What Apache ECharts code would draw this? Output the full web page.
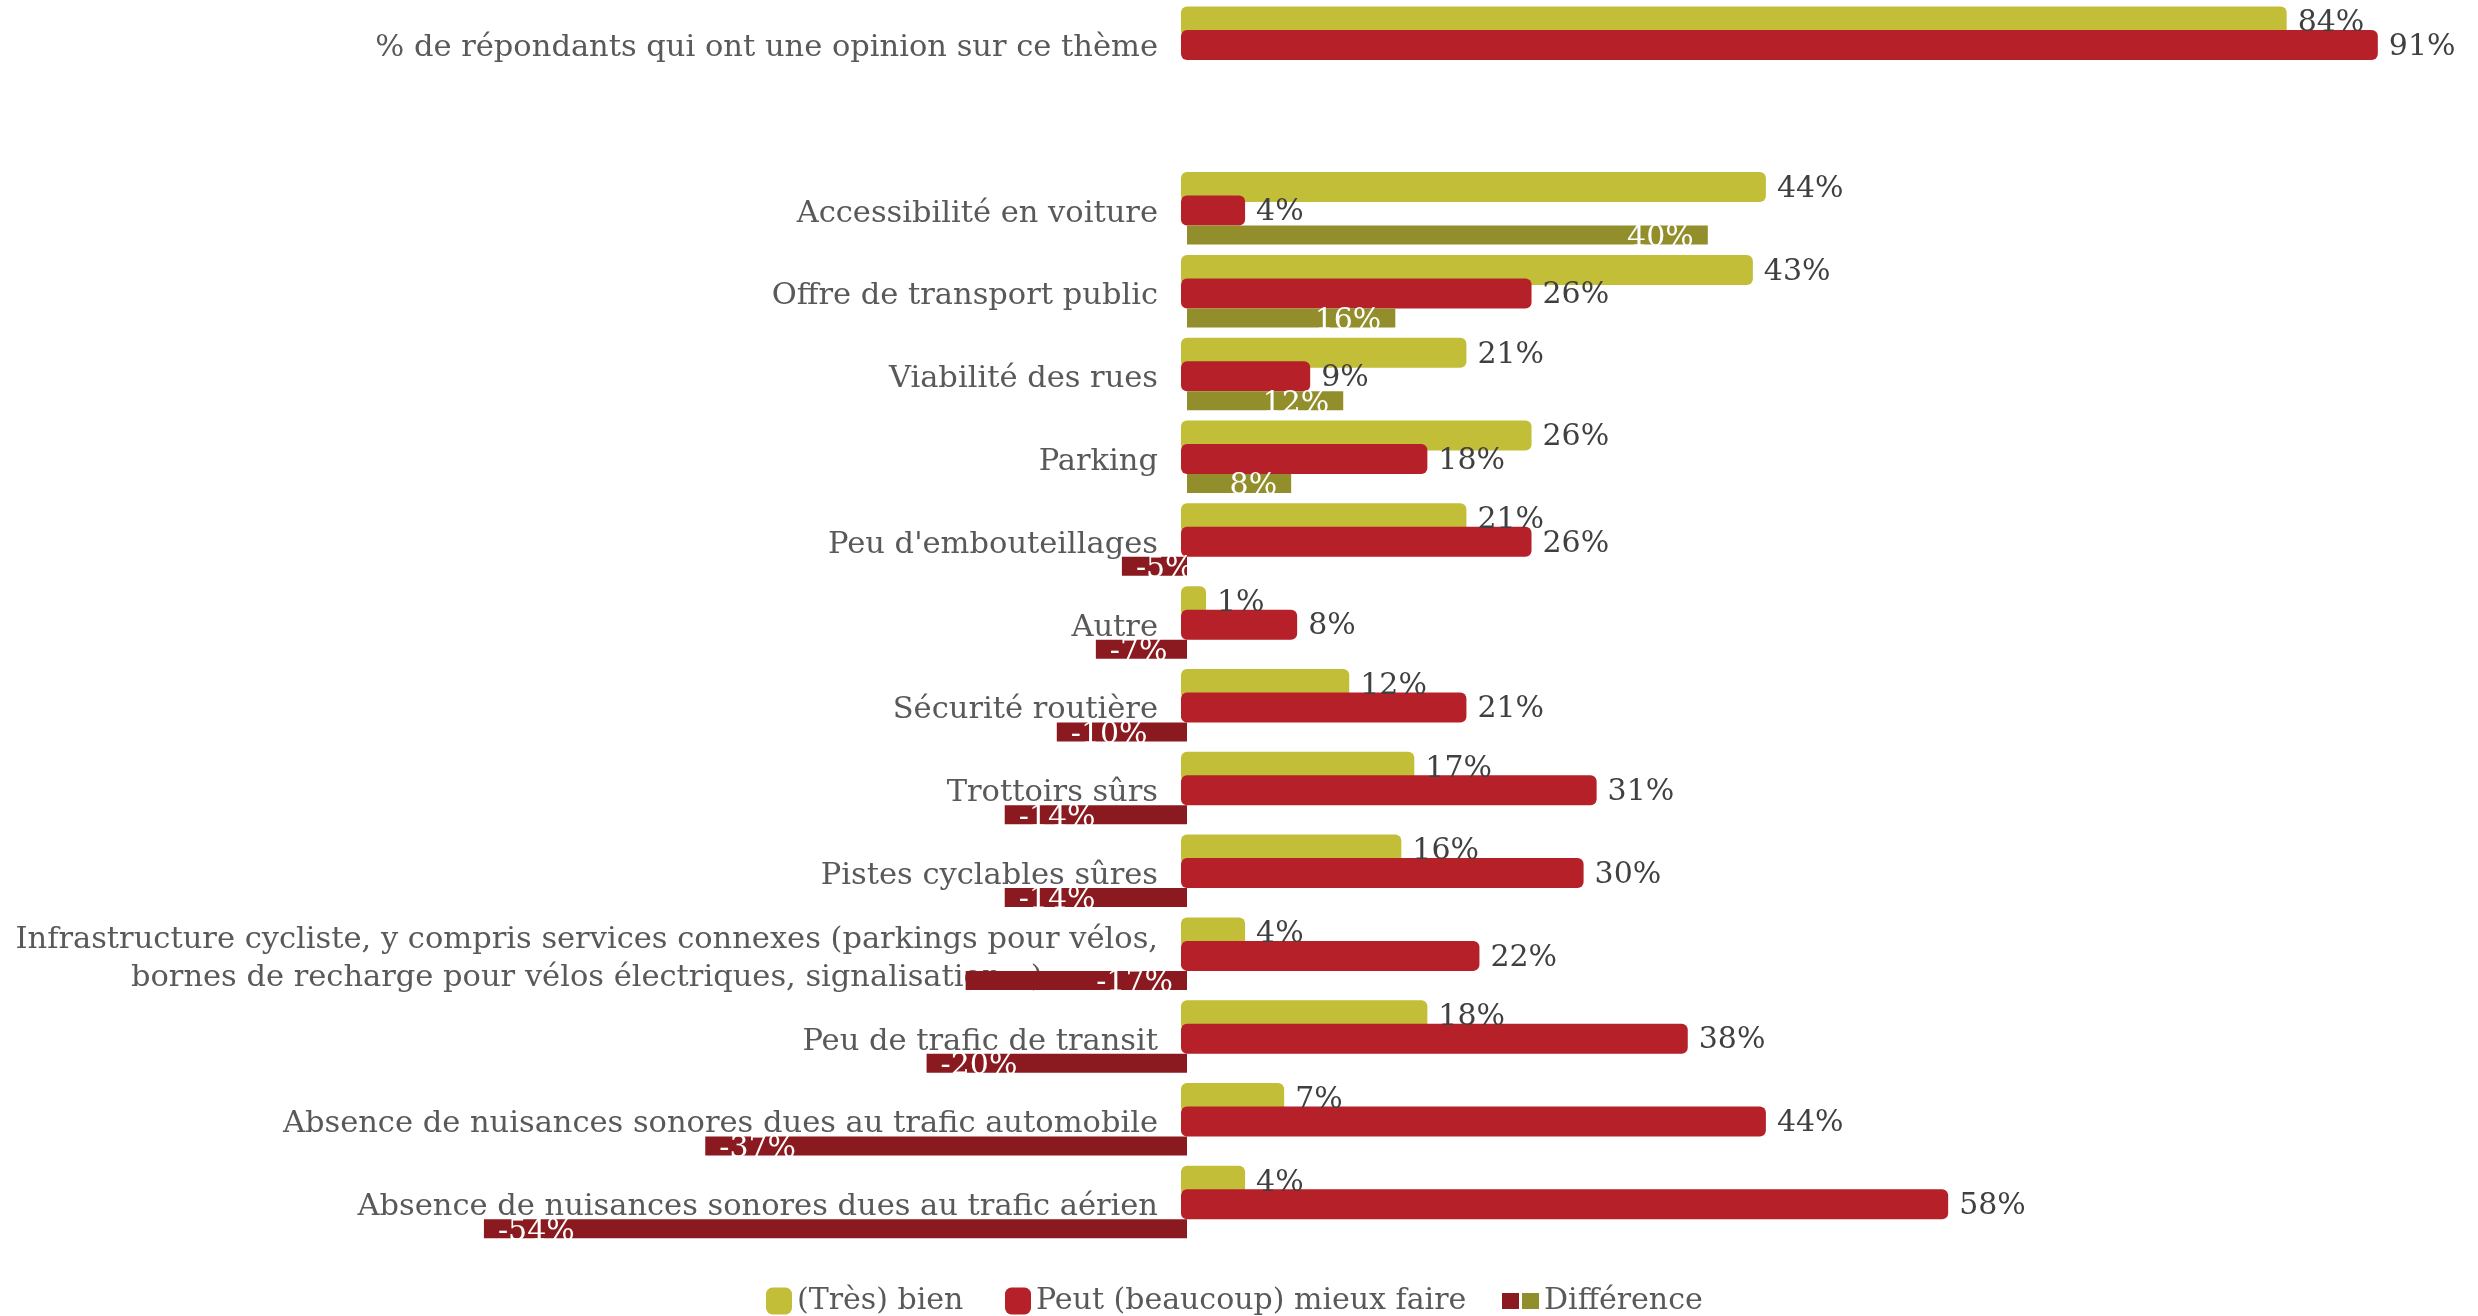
<!DOCTYPE html>
<html>
<head>
<meta charset="utf-8">
<script src="https://cdn.jsdelivr.net/npm/echarts@6/dist/echarts.min.js"></script>
<style>
  html, body { margin: 0; padding: 0; background: #fff; }
  #chart { width: 2478px; height: 1316px; }
</style>
</head>
<body>
<div id="chart"></div>
<script>
const categories = [
    '% de répondants qui ont une opinion sur ce thème',
    '',
    'Accessibilité en voiture',
    'Offre de transport public',
    'Viabilité des rues',
    'Parking',
    "Peu d'embouteillages",
    'Autre',
    'Sécurité routière',
    'Trottoirs sûrs',
    'Pistes cyclables sûres',
    'Infrastructure cycliste, y compris services connexes (parkings pour vélos,\nbornes de recharge pour vélos électriques, signalisation...)',
    'Peu de trafic de transit',
    'Absence de nuisances sonores dues au trafic automobile',
    'Absence de nuisances sonores dues au trafic aérien'
];
const tresBien = [84, null, 44, 43, 21, 26, 21, 1, 12, 17, 16, 4, 18, 7, 4];
const mieuxFaire = [91, null, 4, 26, 9, 18, 26, 8, 21, 31, 30, 22, 38, 44, 58];
const difference = [null, null, 40, 16, 12, 8, -5, -7, -10, -14, -14, -17, -20, -37, -54];
// rows where the difference label sits next to the axis instead of the bar end
const diffLabelNearAxis = [11];

const FONT = '"DejaVu Serif", serif';
const YELLOW = '#C2BE38';
const RED = '#B52029';
const DIFF_POS = '#938E2C';
const DIFF_NEG = '#8A1A1F';

const X_MIN = -80, X_MAX = 95;
const GRID_LEFT = 145.4, GRID_RIGHT = 54.1;
// where value 0 falls, so the category labels can sit on it
const zeroX = GRID_LEFT + (0 - X_MIN) / (X_MAX - X_MIN) * (2478 - GRID_LEFT - GRID_RIGHT);

const toData = arr => arr.map((v, i) => [v, i]).filter(d => d[0] !== null);

// width of the first line of the long label, so both lines can be centred
const ctx = document.createElement('canvas').getContext('2d');
ctx.font = '30.5px ' + FONT;

function roundBar(offset, color) {
    return function (params, api) {
        const v = api.value(0);
        const cy = api.coord([0, api.value(1)])[1] + offset;
        const x0 = api.coord([0, 0])[0] - 6;
        const x1 = api.coord([v, 0])[0] + 6;
        return {
            type: 'rect',
            shape: { x: x0, y: cy - 15, width: x1 - x0, height: 30, r: 6 },
            style: { fill: color },
            textContent: { style: { text: v + '%', fill: '#404040', font: '30px ' + FONT } },
            textConfig: { position: 'right', distance: 11, offset: [0, 2] }
        };
    };
}

function diffBar(params, api) {
    const v = api.value(0);
    const idx = api.value(1);
    const cy = api.coord([0, idx])[1] + 24.5;
    const x0 = api.coord([0, 0])[0];
    const x1 = api.coord([v, 0])[0];
    let pos = v < 0 ? 'insideLeft' : 'insideRight';
    if (diffLabelNearAxis.indexOf(idx) >= 0) pos = v < 0 ? 'insideRight' : 'insideLeft';
    return {
        type: 'rect',
        shape: { x: Math.min(x0, x1), y: cy - 9.5, width: Math.abs(x1 - x0), height: 19 },
        style: { fill: v < 0 ? DIFF_NEG : DIFF_POS },
        textContent: { style: { text: v + '%', fill: '#ffffff', font: '30px ' + FONT } },
        textConfig: { position: pos, distance: 14, offset: [0, 3] }
    };
}

const diffIcon = 'image://data:image/svg+xml;charset=utf-8,' + encodeURIComponent(
    '<svg xmlns="http://www.w3.org/2000/svg" width="37" height="16">' +
    '<rect x="0" y="0" width="17" height="16" fill="' + DIFF_NEG + '"/>' +
    '<rect x="20" y="0" width="17" height="16" fill="' + DIFF_POS + '"/></svg>');

const legendText = { fontFamily: FONT, fontSize: 30, color: '#595959' };

const chart = echarts.init(document.getElementById('chart'));
chart.setOption({
    backgroundColor: '#ffffff',
    animation: false,
    grid: { left: GRID_LEFT, right: GRID_RIGHT, top: 3.6, height: 1242.1, outerBoundsMode: 'none' },
    xAxis: {
        type: 'value',
        min: X_MIN,
        max: X_MAX,
        show: false
    },
    yAxis: {
        type: 'category',
        data: categories,
        inverse: true,
        offset: GRID_LEFT - zeroX,
        axisLine: { show: false, onZero: false },
        axisTick: { show: false },
        splitLine: { show: false },
        axisLabel: {
            fontFamily: FONT,
            fontSize: 30.5,
            color: '#595959',
            margin: 29,
            padding: [6, 0, 0, 0],
            formatter: function (val) {
                if (val.indexOf('\n') < 0) return val;
                return val.split('\n').map(l => '{c|' + l + '}').join('\n');
            },
            rich: {
                c: {
                    fontFamily: FONT,
                    fontSize: 30.5,
                    color: '#595959',
                    lineHeight: 38,
                    align: 'center',
                    width: ctx.measureText(categories[11].split('\n')[0]).width
                }
            }
        }
    },
    legend: [
        { data: [{ name: '(Très) bien', icon: 'roundRect' }], left: 766, top: 1286, padding: 0,
          itemWidth: 26, itemHeight: 27, textStyle: legendText },
        { data: [{ name: 'Peut (beaucoup) mieux faire', icon: 'roundRect' }], left: 1005, top: 1286, padding: 0,
          itemWidth: 26, itemHeight: 27, textStyle: legendText },
        { data: [{ name: 'Différence', icon: diffIcon }], left: 1502, top: 1286, padding: 0,
          itemWidth: 37, itemHeight: 16, textStyle: legendText }
    ],
    series: [
        {
            name: '(Très) bien',
            type: 'custom',
            encode: { x: 0, y: 1 },
            itemStyle: { color: YELLOW },
            renderItem: roundBar(-23.5, YELLOW),
            data: toData(tresBien)
        },
        {
            name: 'Peut (beaucoup) mieux faire',
            type: 'custom',
            encode: { x: 0, y: 1 },
            itemStyle: { color: RED },
            renderItem: roundBar(0, RED),
            data: toData(mieuxFaire)
        },
        {
            name: 'Différence',
            type: 'custom',
            encode: { x: 0, y: 1 },
            itemStyle: { color: DIFF_NEG },
            renderItem: diffBar,
            data: toData(difference)
        }
    ]
});
</script>
</body>
</html>
